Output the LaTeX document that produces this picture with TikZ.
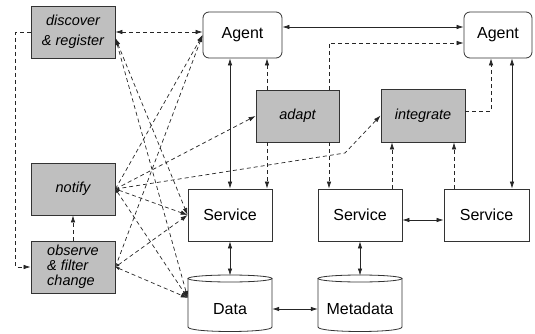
\documentclass[tikz,border=0pt]{standalone}
\usepackage{fontspec}
\setmainfont{Liberation Sans}
\usetikzlibrary{arrows.meta,calc}
\begin{document}
\begin{tikzpicture}[x=1pt,y=-1pt,
  box/.style={draw=black!80, line width=0.8pt, minimum width=84pt, minimum height=52pt, inner sep=0pt, font=\fontsize{16}{19}\selectfont},
  gbox/.style={box, fill=black!25, font=\fontsize{14.5}{15}\selectfont\itshape, align=center},
  agentbox/.style={box, rounded corners=6pt},
  txt/.style={minimum width=84pt, minimum height=46pt, inner sep=0pt, font=\fontsize{16}{19}\selectfont},
  cylline/.style={draw=black!80, line width=0.8pt},
  conn/.style={line width=0.7pt, draw=black!85},
  dsh/.style={conn, dash pattern=on 4pt off 3pt},
  tip/.style={-{Latex[length=7pt,width=4.5pt]}},
  btip/.style={{Latex[length=7pt,width=4.5pt]}-{Latex[length=7pt,width=4.5pt]}},
  stip/.style={{Latex[length=4pt,width=3pt]}-{Latex[length=7pt,width=4.5pt]}},
]
\useasboundingbox[fill=white] (0,0) rectangle (535,334);

% cylinders
\foreach \cx in {230,360} {
  \draw[cylline] (\cx-42,278.5) -- (\cx-42,327) .. controls (\cx-42,333) and (\cx+42,333) .. (\cx+42,327) -- (\cx+42,278.5);
  \draw[cylline] (\cx,278.5) ellipse [x radius=42, y radius=3.5];
}

% nodes
\node[gbox] (disc) at (73,32) {discover\\[5pt]\& register};
\node[agentbox, minimum width=79pt, minimum height=46pt] (ag1) at (242.5,35) {Agent};
\node[agentbox, minimum width=68pt, minimum height=46pt] (ag2) at (498,35) {Agent};
\node[gbox, minimum width=83pt] (adapt) at (297.5,116) {adapt};
\node[gbox, minimum height=53pt] (integ) at (423,115.5) {integrate};
\node[gbox] (notify) at (73,189) {notify};
\node[gbox, align=left] (obs) at (73,267) {observe\\\& filter\\change};
\node[box] (s1) at (230,215) {Service};
\node[box] (s2) at (360,215) {Service};
\node[box, minimum width=85pt] (s3) at (486.5,215) {Service};
\node[txt] (data) at (230,309) {Data};
\node[txt] (meta) at (360,309) {Metadata};

% helper coordinates
\coordinate (x267) at (267,0);
\coordinate (x329) at (329,0);
\coordinate (x392) at (392,0);
\coordinate (x454) at (454,0);
\coordinate (x491) at (491,0);
\coordinate (x512) at (512,0);
\coordinate (datatop) at (230,275.5);
\coordinate (metatop) at (360,275.5);
\coordinate (D) at ([yshift=-6pt]disc.east);
\coordinate (Dt) at ([yshift=11pt]data.west);
\coordinate (bend) at (345,153);

% connectors
\draw[dsh, btip] (disc.east) -- (disc.east -| ag1.west);
\draw[conn, btip] ([yshift=8pt]ag1.east) -- ([yshift=8pt]ag2.west);
\draw[dsh, tip] (disc.west) -- ++(-15,0) |- (obs.west);
\draw[dsh, tip] (obs.north) -- (notify.south);
\draw[conn, btip] (s1.north) -- (s1.north |- ag1.south);
\draw[dsh, tip] (adapt.north -| x267) -- (ag1.south -| x267);
\draw[dsh, tip] (adapt.south -| x267) -- (s1.north -| x267);
\draw[dsh, tip] (adapt.north -| x329) |- ([yshift=-8pt]ag2.west);
\draw[dsh, tip] (adapt.south -| x329) -- (s2.north -| x329);
\draw[dsh, tip] (s2.north -| x392) -- (integ.south -| x392);
\draw[dsh, tip] (s3.north -| x454) -- (integ.south -| x454);
\draw[dsh, tip] ([yshift=4.5pt]integ.east) -| (ag2.south -| x491);
\draw[conn, btip] (s3.north -| x512) -- (ag2.south -| x512);
\draw[conn, btip] ([yshift=-5pt]s2.east) -- ([yshift=-5pt]s3.west);
\draw[conn, btip] (s1.south) -- (datatop);
\draw[conn, btip] (s2.south) -- (metatop);
\draw[conn, btip] (data.east) -- (meta.west);

% fan
\draw[dsh, tip] (notify.east) -- (ag1.west);
\draw[dsh, tip] (obs.east) -- (ag1.west);
\draw[dsh, tip] (notify.east) -- (adapt.west);
\draw[dsh, tip] (notify.east) -- (bend) -- (integ.west);
\draw[dsh, btip] (D) -- (s1.west);
\draw[dsh, btip] (D) -- (Dt);
\foreach \src in {notify.east, obs.east} {
  \foreach \dst in {s1.west, Dt} {
    \draw[dsh, stip] (\src) -- (\dst);
  }
}
\end{tikzpicture}
\end{document}
